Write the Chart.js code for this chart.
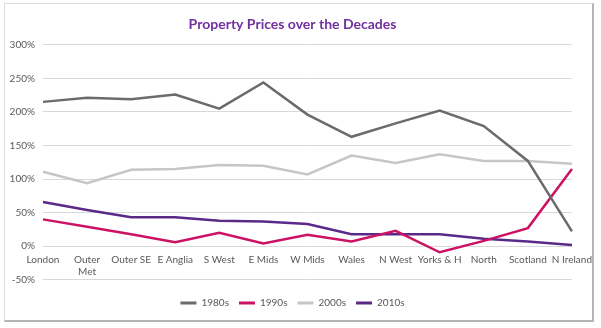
<!DOCTYPE html>
<html>
<head>
<meta charset="utf-8">
<script src="https://cdn.jsdelivr.net/npm/chart.js@4"></script>
<style>
  body { margin: 0; background: #fff; }
  #panel {
    position: absolute; left: 4px; top: 3px;
    width: 587px; height: 316px;
    border-left: 1px solid #dcdcdc; border-top: 1px solid #dcdcdc;
    border-right: 2px solid #b4b4b4; border-bottom: 2px solid #b4b4b4;
    background: #fff;
  }
</style>
</head>
<body>
<div id="panel"><canvas id="myChart" width="587" height="316"></canvas></div>
<script>
// categories along the x axis
var regions = ['London', ['Outer', 'Met'], 'Outer SE', 'E Anglia', 'S West', 'E Mids', 'W Mids',
               'Wales', 'N West', 'Yorks & H', 'North', 'Scotland', 'N Ireland'];

// % change per decade
var s1980s = [215, 221, 219, 226, 205, 244, 196, 163, 183, 202, 179, 127, 22];
var s1990s = [40, 29, 18, 6, 20, 4, 17, 7, 23, -9, 8, 27, 115];
var s2000s = [111, 94, 114, 115, 121, 120, 107, 135, 124, 137, 127, 127, 123];
var s2010s = [66, 54, 43, 43, 38, 37, 33, 18, 18, 18, 11, 7, 2];

// y axis
var yMin = -50;
var yMax = 300;
var yStep = 50;

var labelFont = { family: 'Lato', size: 10 };
var labelColor = '#595959';

function line(label, values, color) {
    return {
        label: label,
        data: values,
        borderColor: color,
        backgroundColor: color,
        borderWidth: 2.5,
        pointRadius: 0,
        tension: 0,
    };
}

const data = {
    labels: regions,
    datasets: [
        line('1980s', s1980s, '#6b6b6b'),
        line('1990s', s1990s, '#cc1262'),
        line('2000s', s2000s, '#c6c6c6'),
        line('2010s', s2010s, '#5b2a88'),
    ],
};

const config = {
    type: 'line',
    data,
    options: {
        responsive: false,
        animation: false,
        layout: { padding: { left: 0, right: 12, top: 0, bottom: 2 } },
        scales: {
            x: {
                position: { y: 0 },   // labels sit under the 0% line like Excel
                grid: { display: false },
                border: { display: false },
                ticks: {
                    font: labelFont,
                    color: labelColor,
                    maxRotation: 0,
                    autoSkip: false,
                    padding: 0,
                },
            },
            y: {
                min: yMin,
                max: yMax,
                afterFit(scale) { scale.width = 38; },
                grid: { color: '#d9d9d9', lineWidth: 1, drawTicks: false },
                border: { display: false },
                ticks: {
                    stepSize: yStep,
                    padding: 8,
                    font: labelFont,
                    color: labelColor,
                    callback: v => v + '%',
                },
            },
        },
        plugins: {
            title: {
                display: true,
                text: 'Property Prices over the Decades',
                color: '#7030a0',
                font: { family: 'Lato', size: 14, weight: 'bold' },
                padding: { top: 12, bottom: 12 },
            },
            legend: {
                position: 'bottom',
                // empty title only used as a spacer above the legend items
                title: { display: true, text: '', font: { size: 1 }, padding: { top: 7, bottom: 0 } },
                labels: {
                    font: labelFont,
                    color: labelColor,
                    boxWidth: 16,
                    boxHeight: 3,
                    padding: 10,
                    generateLabels(chart) {
                        const items = Chart.defaults.plugins.legend.labels.generateLabels(chart);
                        items.forEach(it => { it.lineWidth = 0; });
                        return items;
                    },
                },
            },
            tooltip: { enabled: false },
        },
    },
};

new Chart(document.getElementById('myChart'), config);
</script>
</body>
</html>
